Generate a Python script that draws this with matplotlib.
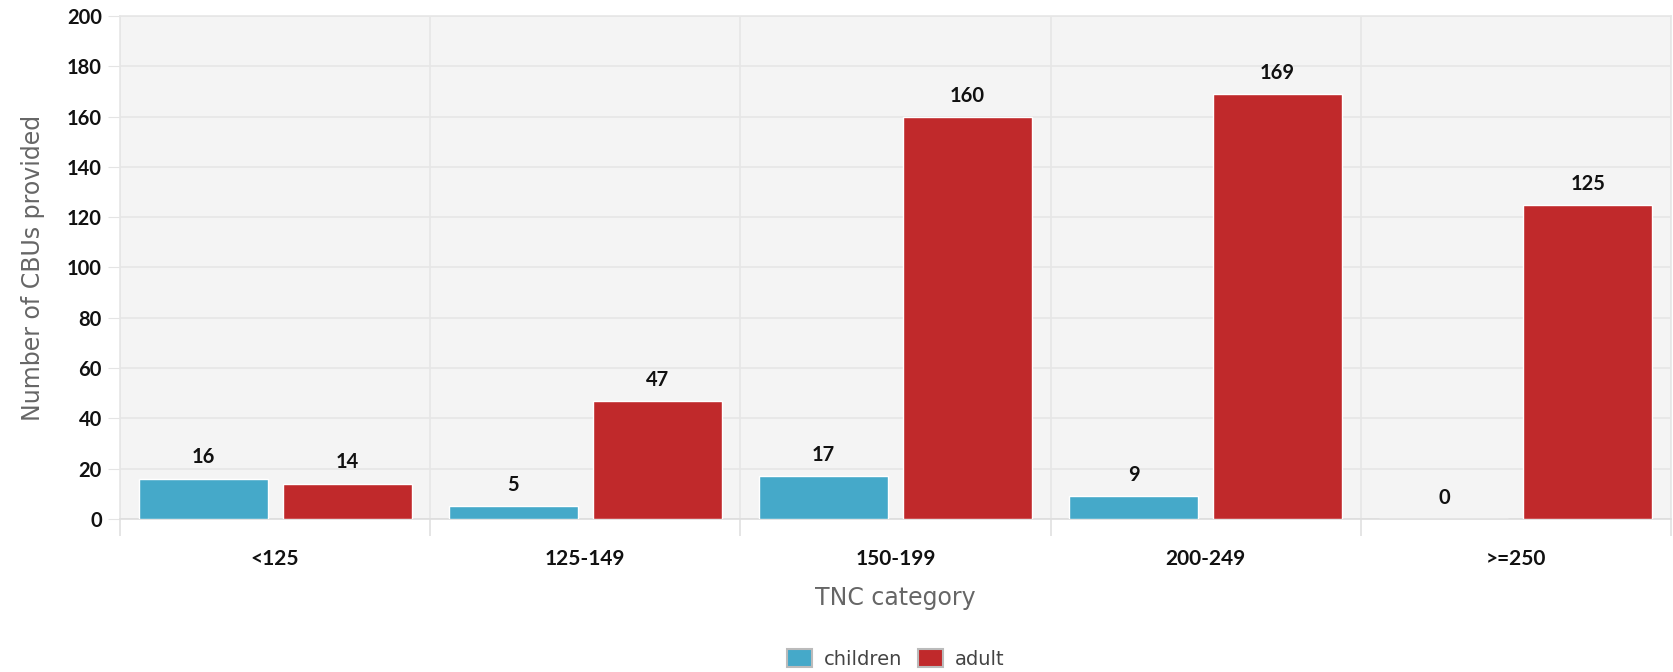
import matplotlib.pyplot as plt
import numpy as np

# categories and values
categories = ['<125', '125-149', '150-199', '200-249', '>=250']
children = [16, 5, 17, 9, 0]
adult = [14, 47, 160, 169, 125]

col_children = '#45a9c9'
col_adult = '#c0292b'

fig = plt.figure(figsize=(16.74, 6.72), dpi=100)
ax = fig.add_axes([0.0717, 0.228, 0.9265, 0.748])
ax.set_facecolor('#f4f4f4')

x = np.arange(len(categories))
w = 0.416
off = 0.232
b1 = ax.bar(x - off, children, w, color=col_children, edgecolor='white', linewidth=1, label='children', zorder=3)
b2 = ax.bar(x + off, adult, w, color=col_adult, edgecolor='white', linewidth=1, label='adult', zorder=3)

# data labels above the bars
for bars, vals in ((b1, children), (b2, adult)):
    for r, v in zip(bars, vals):
        ax.annotate(str(v), (r.get_x() + r.get_width() / 2, v), xytext=(0, 8),
                    textcoords='offset points', ha='center', va='bottom',
                    fontsize=14.5, family='Lato', fontweight='bold', color='#111111')

ax.set_xlim(-0.5, len(categories) - 0.5)
ax.set_ylim(0, 200)
ax.set_yticks(np.arange(0, 201, 20))
ax.tick_params(axis='y', labelsize=14.5, length=9, color='#e4e4e4', pad=4, labelcolor='#111111')
for lab in ax.get_yticklabels():
    lab.set_family('Lato')
    lab.set_fontweight('bold')

ax.set_xticks(x)
ax.set_xticklabels(categories, family='Lato', fontweight='bold', fontsize=15, color='#111111')
ax.tick_params(axis='x', which='major', length=0, pad=22)
ax.set_xticks(np.arange(-0.5, len(categories)), minor=True)
ax.tick_params(axis='x', which='minor', length=12, color='#e0e0e0', width=1.2)

ax.grid(axis='y', color='#e6e6e6', linewidth=1.2, zorder=0)
ax.grid(axis='x', which='minor', color='#e6e6e6', linewidth=1.2, zorder=0)
ax.set_axisbelow(True)
for s in ax.spines.values():
    s.set_color('#e6e6e6')
    s.set_linewidth(1.2)
ax.spines['bottom'].set_color('#dddddd')

ax.set_ylabel('Number of CBUs provided', fontsize=17, color='#666666', family='DejaVu Sans', labelpad=16)
ax.set_xlabel('TNC category', fontsize=17, color='#666666', family='DejaVu Sans', labelpad=12)

leg = fig.legend(handles=[b1, b2], loc='center', bbox_to_anchor=(0.535, 0.02), ncol=2,
                 frameon=False, fontsize=14, handlelength=1.3, handleheight=1.1,
                 handletextpad=0.6, columnspacing=0.8)
for t in leg.get_texts():
    t.set_color('#444444')
for p in leg.get_patches():
    p.set_edgecolor('#bbbbbb')
    p.set_linewidth(1.5)

fig.savefig('out.png', dpi=100)
